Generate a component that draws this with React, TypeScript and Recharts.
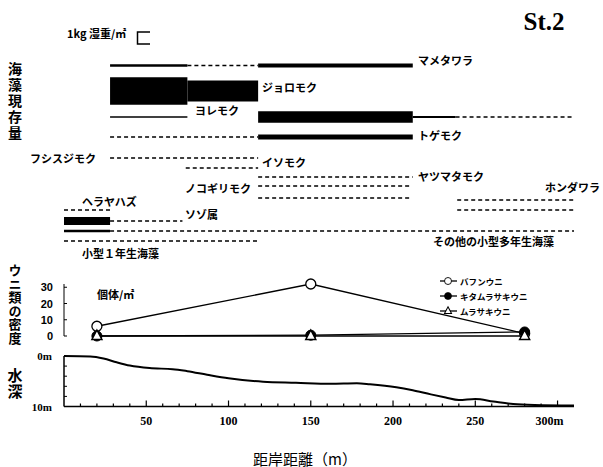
import { LineChart, Line, XAxis, YAxis } from "recharts";

// distance from shore of the three urchin survey points (m)
const urchinDist = [20, 150, 280];
// individuals / m²
const bafununi = [6, 32, 1.5];
const kitamurasakiuni = [0, 0.5, 2.5];
const murasakiuni = [0, 0, 0];

// water depth profile along the transect
const profileDist = [0, 16, 24, 32, 40, 52, 66, 75, 87, 100, 121, 141, 162, 178, 186, 202, 212, 223, 232, 240, 250, 261, 273, 286, 310];
const profileDepth = [0, 0.1, 0.5, 1.25, 1.9, 2.4, 2.6, 3.0, 3.7, 4.4, 5.1, 5.3, 5.5, 5.4, 5.6, 6.2, 6.8, 7.6, 8.2, 8.7, 8.5, 9.0, 9.5, 9.7, 9.8];

const depthTicks = [10, 20, 30, 40, 50, 60, 70, 80, 90, 100, 110, 120, 130, 140, 150, 160, 170, 180, 190, 200, 210, 220, 230, 240, 250, 260, 270, 280, 290, 300];

// seaweed standing crop: [from m, to m, kg wet weight / m²]  (0 = present, not measurable)
const mametawara = [[28, 75, 0.22], [75, 118, 0], [118, 212, 0.33]];
const joromoku = [[28, 75, 2.3], [75, 118, 1.75]];
const yoremoku = [[28, 75, 0.12], [118, 212, 0.95], [212, 238, 0.15], [238, 310, 0]];
const togemoku = [[28, 118, 0], [118, 212, 0.4]];
const fushisujimoku = [[28, 118, 0]];
const isomoku = [[74, 118, 0]];
const yatsumatamoku = [[118, 212, 0]];
const nokogirimoku = [[118, 211, 0]];
const nokogirimoku2 = [[118, 210, 0]];
const hondawara = [[239, 310, 0]];
const hondawara2 = [[239, 310, 0]];
const herayahazu = [[0, 28, 0]];
const sozo = [[0, 28, 0.65], [28, 72, 0]];
const otherPerennial = [[0, 28, 0.22], [28, 310, 0]];
const smallAnnual = [[0, 118, 0]];

const algaeRows = [
  { id: "mametawara", segs: mametawara, y: 65.5 },
  { id: "joromoku", segs: joromoku, y: 91 },
  { id: "yoremoku", segs: yoremoku, y: 117 },
  { id: "togemoku", segs: togemoku, y: 137 },
  { id: "fushisujimoku", segs: fushisujimoku, y: 158 },
  { id: "isomoku", segs: isomoku, y: 168 },
  { id: "yatsumatamoku", segs: yatsumatamoku, y: 177 },
  { id: "nokogirimoku", segs: nokogirimoku, y: 186 },
  { id: "nokogirimoku2", segs: nokogirimoku2, y: 198 },
  { id: "hondawara", segs: hondawara, y: 200 },
  { id: "hondawara2", segs: hondawara2, y: 210 },
  { id: "herayahazu", segs: herayahazu, y: 210 },
  { id: "sozo", segs: sozo, y: 221 },
  { id: "other", segs: otherPerennial, y: 231 },
  { id: "annual", segs: smallAnnual, y: 241 },
];

const algaeLabels = [
  { text: "マメタワラ", x: 418, y: 60 },
  { text: "ジョロモク", x: 262, y: 87 },
  { text: "ヨレモク", x: 195, y: 110 },
  { text: "トゲモク", x: 418, y: 135 },
  { text: "フシスジモク", x: 30, y: 158 },
  { text: "イソモク", x: 262, y: 162 },
  { text: "ヤツマタモク", x: 418, y: 176 },
  { text: "ノコギリモク", x: 185, y: 188 },
  { text: "ホンダワラ", x: 545, y: 187 },
  { text: "ヘラヤハズ", x: 82, y: 201 },
  { text: "ソゾ属", x: 185, y: 214 },
  { text: "その他の小型多年生海藻", x: 433, y: 241 },
  { text: "小型１年生海藻", x: 82, y: 253 },
];

const KG_PX = 12; // 1 kg/m² bar thickness
const X_DOMAIN: [number, number] = [0, 310];
const JP = "'Noto Sans CJK JP', sans-serif";
const SERIF = "'Liberation Serif', serif";

const urchinData = urchinDist.map((d, i) => ({
  d,
  bafun: bafununi[i],
  kita: kitamurasakiuni[i],
  mura: murasakiuni[i],
}));

const profileData = profileDist.map((d, i) => ({ d, depth: profileDepth[i] }));

const OpenCircle = (p: any) => (
  <circle cx={p.cx} cy={p.cy} r={5} fill="#fff" stroke="#000" strokeWidth={1.3} />
);
const FilledCircle = (p: any) => (
  <circle cx={p.cx} cy={p.cy} r={5} fill="#000" stroke="#000" strokeWidth={1} />
);
const OpenTriangle = (p: any) => (
  <path d={`M${p.cx},${p.cy - 6}L${p.cx + 5},${p.cy + 3.5}L${p.cx - 5},${p.cy + 3.5}Z`} fill="#fff" stroke="#000" strokeWidth={1.5} />
);

const urchinSeries = [
  { key: "bafun", name: "バフンウニ", Dot: OpenCircle },
  { key: "kita", name: "キタムラサキウニ", Dot: FilledCircle },
  { key: "mura", name: "ムラサキウニ", Dot: OpenTriangle },
];

const UrchinTick = ({ x, y, payload }: any) => (
  <g>
    <line x1={x + 10} x2={x + 13} y1={y} y2={y} stroke="#000" />
    <text x={x - 1} y={y} textAnchor="end" dominantBaseline="central" fontFamily="'Liberation Sans', Arial, sans-serif" fontWeight="bold" fontSize={11} fill="#000">
      {payload.value}
    </text>
  </g>
);

const DepthYTick = ({ x, y, payload }: any) => {
  const v = payload.value;
  const edge = v === 0 || v === 10;
  return (
    <g>
      {!edge && <line x1={x + 10} x2={x + 13} y1={y} y2={y} stroke="#000" />}
      {edge && (
        <text x={x - 2} y={y} textAnchor="end" dominantBaseline="central" fontFamily={SERIF} fontWeight="bold" fontSize={11} fill="#000">
          {v}m
        </text>
      )}
    </g>
  );
};

const DepthXTick = ({ x, y, payload }: any) => {
  const v = payload.value;
  const major = v % 50 === 0;
  const ay = y - 8;
  return (
    <g>
      <line x1={x} x2={x} y1={ay} y2={ay - (major ? 6 : 3)} stroke="#000" strokeWidth={1.2} />
      {major && (
        <text x={v === 300 ? x + 6 : x} y={ay + 18} textAnchor={v === 300 ? "end" : "middle"} fontFamily={SERIF} fontWeight="bold" fontSize={12} fill="#000">
          {v === 300 ? "300m" : v}
        </text>
      )}
    </g>
  );
};

function VText({ text, x, y, size, spacing }: { text: string; x: number; y: number; size: number; spacing: number }) {
  return (
    <text
      x={x}
      y={y}
      fontFamily={JP}
      fontWeight="bold"
      fontSize={size}
      fill="#000"
      style={{ writingMode: "vertical-rl", letterSpacing: spacing }}
    >
      {text}
    </text>
  );
}

export default function App() {
  return (
    <div style={{ position: "absolute", left: 0, top: 0, width: 603, height: 467, background: "#fff" }}>
      {/* seaweed standing crop */}
      <div style={{ position: "absolute", left: 0, top: 0 }}>
        <LineChart width={603} height={265} margin={{ top: 0, right: 29, bottom: 0, left: 64 }}>
          <XAxis dataKey="d" type="number" domain={X_DOMAIN} hide allowDataOverflow />
          <YAxis type="number" domain={[0, 265]} reversed hide allowDataOverflow />
          {algaeRows.flatMap((row) =>
            row.segs.map(([a, b, kg], i) => (
              <Line
                key={row.id + i}
                data={[{ d: a, y: row.y }, { d: b, y: row.y }]}
                dataKey="y"
                type="linear"
                stroke="#000"
                strokeWidth={kg > 0 ? kg * KG_PX : 1.3}
                strokeDasharray={kg > 0 ? undefined : "4 3"}
                strokeLinecap="butt"
                dot={false}
                activeDot={false}
                isAnimationActive={false}
              />
            ))
          )}
        </LineChart>
      </div>

      {/* sea urchin density */}
      <div style={{ position: "absolute", left: 0, top: 270 }}>
        <LineChart width={603} height={80} data={urchinData} margin={{ top: 14, right: 29, bottom: 14, left: 24 }}>
          <XAxis dataKey="d" type="number" domain={X_DOMAIN} hide />
          <YAxis
            type="number"
            domain={[0, 32]}
            ticks={[0, 10, 20, 30]}
            interval={0}
            width={40}
            axisLine={{ stroke: "#000" }}
            tickLine={false}
            tickSize={0}
            tickMargin={10}
            tick={UrchinTick}
          />
          {urchinSeries.map(({ key, Dot }) => (
            <Line
              key={key}
              dataKey={key}
              type="linear"
              stroke="#000"
              strokeWidth={1.3}
              dot={<Dot />}
              activeDot={false}
              isAnimationActive={false}
            />
          ))}
        </LineChart>
      </div>

      {/* water depth */}
      <div style={{ position: "absolute", left: 0, top: 346 }}>
        <LineChart width={603} height={100} data={profileData} margin={{ top: 10, right: 29, bottom: 14.5, left: 24 }}>
          <XAxis
            dataKey="d"
            type="number"
            domain={X_DOMAIN}
            ticks={depthTicks}
            interval={0}
            height={25}
            axisLine={{ stroke: "#000", strokeWidth: 1.5 }}
            tickLine={false}
            tickSize={0}
            tickMargin={8}
            tick={DepthXTick}
          />
          <YAxis
            type="number"
            domain={[0, 10]}
            reversed
            ticks={[0, 2, 4, 6, 8, 10]}
            interval={0}
            width={40}
            axisLine={{ stroke: "#000", strokeWidth: 1.5 }}
            tickLine={false}
            tickSize={0}
            tickMargin={10}
            tick={DepthYTick}
          />
          <Line dataKey="depth" type="monotone" stroke="#000" strokeWidth={2} dot={false} activeDot={false} isAnimationActive={false} />
        </LineChart>
      </div>

      {/* texts */}
      <svg width={603} height={467} style={{ position: "absolute", left: 0, top: 0, pointerEvents: "none" }}>
        <text x={544} y={30} textAnchor="middle" fontFamily={SERIF} fontWeight="bold" fontSize={25} fill="#000">St.2</text>
        <text x={67} y={33} dominantBaseline="central" fontFamily={JP} fontWeight="bold" fontSize={11} fill="#000">1kg 湿重/㎡</text>
        <path d="M150,32H137.5V44H150" fill="none" stroke="#000" strokeWidth={1.5} />
        <VText text="海藻現存量" x={15} y={62} size={14} spacing={2} />
        <VText text="ウニ類の密度" x={15} y={264} size={13} spacing={0.5} />
        <VText text="水深" x={15} y={368} size={15} spacing={1} />
        {algaeLabels.map((l) => (
          <text key={l.text} x={l.x} y={l.y} dominantBaseline="central" fontFamily={JP} fontWeight="bold" fontSize={11} fill="#000">
            {l.text}
          </text>
        ))}
        <text x={97} y={294} dominantBaseline="central" fontFamily={JP} fontWeight="bold" fontSize={11} fill="#000">個体/㎡</text>
        {urchinSeries.map(({ key, name, Dot }, i) => {
          const y = 281 + i * 15;
          return (
            <g key={key}>
              <line x1={440} x2={457} y1={y} y2={y} stroke="#000" strokeWidth={1.3} />
              <g transform={`translate(${448},${y}) scale(0.7) translate(${-448},${-y})`}>
                <Dot cx={448} cy={y} />
              </g>
              <text x={460} y={y} dominantBaseline="central" fontFamily={JP} fontWeight="bold" fontSize={8.5} fill="#000">{name}</text>
            </g>
          );
        })}
        <text x={305} y={458} textAnchor="middle" dominantBaseline="central" fontFamily={JP} fontSize={15} fill="#000">距岸距離（m）</text>
      </svg>
    </div>
  );
}
